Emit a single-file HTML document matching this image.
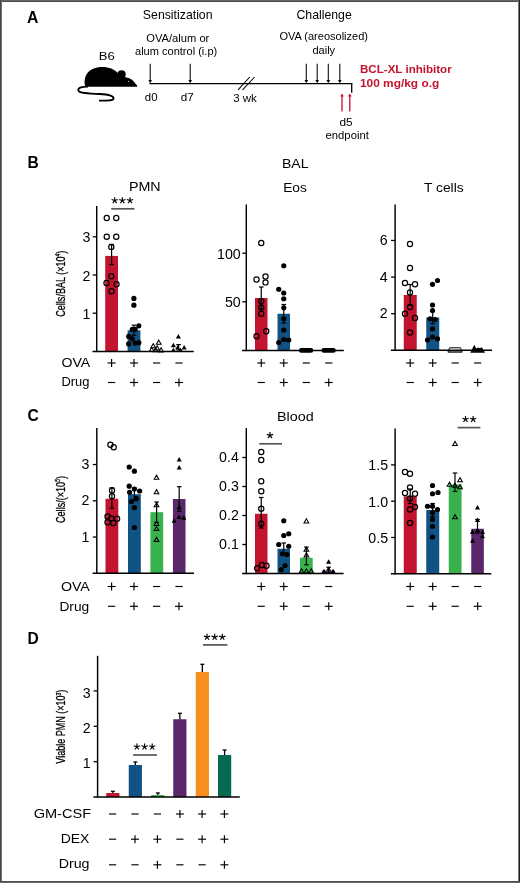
<!DOCTYPE html>
<html><head><meta charset="utf-8"><title>Figure</title>
<style>html,body{margin:0;padding:0;background:#fff;} svg{display:block;will-change:transform;} text{font-family:"Liberation Sans",sans-serif;}</style>
</head><body>
<svg width="520" height="883" viewBox="0 0 520 883">
<rect x="0" y="0" width="520" height="883" fill="#ffffff"/>
<rect x="0" y="0" width="520" height="1" fill="#666666"/>
<rect x="0" y="1" width="520" height="1" fill="#4b4949"/>
<rect x="0" y="0" width="1" height="883" fill="#464646"/>
<rect x="1" y="1" width="1" height="881" fill="#747474"/>
<rect x="519" y="0" width="1" height="883" fill="#231f20"/>
<rect x="518" y="1" width="1" height="881" fill="#777777"/>
<rect x="0" y="881" width="520" height="1" fill="#4d4a4a"/>
<rect x="0" y="882" width="520" height="1" fill="#6a6868"/>
<text x="27.0" y="23" font-size="15.8" text-anchor="start" font-weight="bold" fill="#000000" >A</text>
<text x="177.7" y="19.2" font-size="13.2" text-anchor="middle" font-weight="normal" fill="#000000" textLength="69.70" lengthAdjust="spacingAndGlyphs" >Sensitization</text>
<text x="324.1" y="19.1" font-size="13.1" text-anchor="middle" font-weight="normal" fill="#000000" textLength="55.20" lengthAdjust="spacingAndGlyphs" >Challenge</text>
<text x="177.8" y="41.5" font-size="11" text-anchor="middle" font-weight="normal" fill="#000000" textLength="63.00" lengthAdjust="spacingAndGlyphs" >OVA/alum or</text>
<text x="176.1" y="55.3" font-size="11" text-anchor="middle" font-weight="normal" fill="#000000" textLength="82.20" lengthAdjust="spacingAndGlyphs" >alum control (i.p)</text>
<text x="323.7" y="40.3" font-size="11" text-anchor="middle" font-weight="normal" fill="#000000" textLength="88.50" lengthAdjust="spacingAndGlyphs" >OVA (areosolized)</text>
<text x="323.8" y="53.8" font-size="11" text-anchor="middle" font-weight="normal" fill="#000000" textLength="22.70" lengthAdjust="spacingAndGlyphs" >daily</text>
<text x="106.8" y="59.8" font-size="11" text-anchor="middle" font-weight="normal" fill="#000000" textLength="16.00" lengthAdjust="spacingAndGlyphs" >B6</text>
<text x="151.2" y="100.8" font-size="10.8" text-anchor="middle" font-weight="normal" fill="#000000" textLength="12.70" lengthAdjust="spacingAndGlyphs" >d0</text>
<text x="187.2" y="100.8" font-size="10.8" text-anchor="middle" font-weight="normal" fill="#000000" textLength="13.00" lengthAdjust="spacingAndGlyphs" >d7</text>
<text x="245" y="102" font-size="10.8" text-anchor="middle" font-weight="normal" fill="#000000" textLength="23.70" lengthAdjust="spacingAndGlyphs" >3 wk</text>
<text x="346" y="125.6" font-size="10.8" text-anchor="middle" font-weight="normal" fill="#000000" textLength="13.20" lengthAdjust="spacingAndGlyphs" >d5</text>
<text x="347.2" y="138.9" font-size="10.8" text-anchor="middle" font-weight="normal" fill="#000000" textLength="43.20" lengthAdjust="spacingAndGlyphs" >endpoint</text>
<text x="360" y="73.3" font-size="11.2" text-anchor="start" font-weight="bold" fill="#c3142f" textLength="91.70" lengthAdjust="spacingAndGlyphs" >BCL-XL inhibitor</text>
<text x="360" y="87.1" font-size="11.2" text-anchor="start" font-weight="bold" fill="#c3142f" textLength="79.20" lengthAdjust="spacingAndGlyphs" >100 mg/kg o.g</text>
<line x1="149.5" y1="83.6" x2="352.3" y2="83.6" stroke="#000000" stroke-width="1.3" stroke-linecap="butt"/>
<line x1="351.7" y1="83.6" x2="351.7" y2="92.7" stroke="#000000" stroke-width="1.3" stroke-linecap="butt"/>
<line x1="238" y1="89.8" x2="249.8" y2="77" stroke="#000000" stroke-width="1.05" stroke-linecap="butt"/>
<line x1="242.6" y1="89.8" x2="254.6" y2="77" stroke="#000000" stroke-width="1.05" stroke-linecap="butt"/>
<line x1="150.2" y1="63.8" x2="150.2" y2="80.5" stroke="#000000" stroke-width="1.05" stroke-linecap="butt"/>
<polygon points="148.39999999999998,80 152.0,80 150.2,83.3" fill="#000000"/>
<line x1="190.2" y1="63.8" x2="190.2" y2="80.5" stroke="#000000" stroke-width="1.05" stroke-linecap="butt"/>
<polygon points="188.39999999999998,80 192.0,80 190.2,83.3" fill="#000000"/>
<line x1="306.3" y1="63.8" x2="306.3" y2="80.5" stroke="#000000" stroke-width="1.05" stroke-linecap="butt"/>
<polygon points="304.5,80 308.1,80 306.3,83.3" fill="#000000"/>
<line x1="317.2" y1="63.8" x2="317.2" y2="80.5" stroke="#000000" stroke-width="1.05" stroke-linecap="butt"/>
<polygon points="315.4,80 319.0,80 317.2,83.3" fill="#000000"/>
<line x1="328.3" y1="63.8" x2="328.3" y2="80.5" stroke="#000000" stroke-width="1.05" stroke-linecap="butt"/>
<polygon points="326.5,80 330.1,80 328.3,83.3" fill="#000000"/>
<line x1="339.8" y1="63.8" x2="339.8" y2="80.5" stroke="#000000" stroke-width="1.05" stroke-linecap="butt"/>
<polygon points="338.0,80 341.6,80 339.8,83.3" fill="#000000"/>
<line x1="342.0" y1="96" x2="342.0" y2="111.5" stroke="#c3142f" stroke-width="1.3" stroke-linecap="butt"/>
<polygon points="340.1,96.6 343.9,96.6 342.0,93.6" fill="#c3142f"/>
<line x1="349.8" y1="96" x2="349.8" y2="111.5" stroke="#c3142f" stroke-width="1.3" stroke-linecap="butt"/>
<polygon points="347.90000000000003,96.6 351.7,96.6 349.8,93.6" fill="#c3142f"/>
<path d="M86,86.7 C84.3,85.5 84.3,81.5 85,78.5 C86.5,72 92,67.8 100,67.1 C108,66.5 114,69 117.6,72.8 L120,76 C123,77 126,77.2 128.6,78.1 C131.6,79.1 134,81.5 135.5,83.8 L137.2,85.5 L137,86.8 Z" fill="#000000"/>
<circle cx="121.6" cy="74.4" r="4.1" fill="#000000"/>
<circle cx="128.6" cy="81.3" r="0.55" fill="#fff"/>
<path d="M88,86.6 C81,86.6 77.6,88 78.4,90.6 C79.4,93.2 88,93.6 100,94 C108,94.4 113.6,95.8 113.6,98.4 C113.6,100.6 108.5,100.6 99,100.6" fill="none" stroke="#000000" stroke-width="1.8"/>
<text x="27.6" y="167.9" font-size="15.6" text-anchor="start" font-weight="bold" fill="#000000" >B</text>
<text x="295.3" y="168" font-size="13.4" text-anchor="middle" font-weight="normal" fill="#000000" textLength="26.70" lengthAdjust="spacingAndGlyphs" >BAL</text>
<text x="144.8" y="191.3" font-size="13.4" text-anchor="middle" font-weight="normal" fill="#000000" textLength="31.70" lengthAdjust="spacingAndGlyphs" >PMN</text>
<rect x="105.19999999999999" y="255.89999999999998" width="12.8" height="95.5" fill="#c3142f"/>
<rect x="127.6" y="330.3" width="12.8" height="21.099999999999966" fill="#115284"/>
<line x1="111.6" y1="244.5" x2="111.6" y2="264.6" stroke="#000000" stroke-width="1.2" stroke-linecap="butt"/>
<line x1="109.3" y1="244.5" x2="113.89999999999999" y2="244.5" stroke="#000000" stroke-width="1.2" stroke-linecap="butt"/>
<line x1="109.3" y1="264.6" x2="113.89999999999999" y2="264.6" stroke="#000000" stroke-width="1.2" stroke-linecap="butt"/>
<line x1="134.0" y1="325.2" x2="134.0" y2="335.3" stroke="#000000" stroke-width="1.2" stroke-linecap="butt"/>
<line x1="131.7" y1="325.2" x2="136.3" y2="325.2" stroke="#000000" stroke-width="1.2" stroke-linecap="butt"/>
<line x1="131.7" y1="335.3" x2="136.3" y2="335.3" stroke="#000000" stroke-width="1.2" stroke-linecap="butt"/>
<circle cx="106.75" cy="218" r="2.6" fill="none" stroke="#000000" stroke-width="1.2"/>
<circle cx="116.25" cy="218" r="2.6" fill="none" stroke="#000000" stroke-width="1.2"/>
<circle cx="106.75" cy="236.75" r="2.6" fill="none" stroke="#000000" stroke-width="1.2"/>
<circle cx="116.25" cy="236.75" r="2.6" fill="none" stroke="#000000" stroke-width="1.2"/>
<circle cx="111.3" cy="246.9" r="2.6" fill="none" stroke="#000000" stroke-width="1.2"/>
<circle cx="111.3" cy="276.3" r="2.6" fill="none" stroke="#000000" stroke-width="1.2"/>
<circle cx="106.5" cy="283" r="2.6" fill="none" stroke="#000000" stroke-width="1.2"/>
<circle cx="116.5" cy="284.3" r="2.6" fill="none" stroke="#000000" stroke-width="1.2"/>
<circle cx="111.5" cy="291.3" r="2.6" fill="none" stroke="#000000" stroke-width="1.2"/>
<circle cx="133.9" cy="298.4" r="2.6" fill="#000000"/>
<circle cx="133.9" cy="305.2" r="2.6" fill="#000000"/>
<circle cx="138.8" cy="325.8" r="2.6" fill="#000000"/>
<circle cx="132.3" cy="329.4" r="2.6" fill="#000000"/>
<circle cx="135.2" cy="329.4" r="2.6" fill="#000000"/>
<circle cx="128.7" cy="336.4" r="2.6" fill="#000000"/>
<circle cx="132.3" cy="338.8" r="2.6" fill="#000000"/>
<circle cx="128.7" cy="343.9" r="2.6" fill="#000000"/>
<circle cx="135.2" cy="343.1" r="2.6" fill="#000000"/>
<circle cx="138.8" cy="342.7" r="2.6" fill="#000000"/>
<polygon points="153.2,343.65 150.85,347.7625 155.54999999999998,347.7625" fill="none" stroke="#000000" stroke-width="1.05" stroke-linejoin="miter"/>
<polygon points="158.7,340.04999999999995 156.35,344.16249999999997 161.04999999999998,344.16249999999997" fill="none" stroke="#000000" stroke-width="1.05" stroke-linejoin="miter"/>
<polygon points="151.7,347.25 149.35,351.3625 154.04999999999998,351.3625" fill="none" stroke="#000000" stroke-width="1.05" stroke-linejoin="miter"/>
<polygon points="157.2,345.84999999999997 154.85,349.9625 159.54999999999998,349.9625" fill="none" stroke="#000000" stroke-width="1.05" stroke-linejoin="miter"/>
<polygon points="161.1,347.84999999999997 158.75,351.9625 163.45,351.9625" fill="none" stroke="#000000" stroke-width="1.05" stroke-linejoin="miter"/>
<polygon points="155.5,347.65 153.15,351.7625 157.85,351.7625" fill="none" stroke="#000000" stroke-width="1.05" stroke-linejoin="miter"/>
<line x1="178.6" y1="344.6" x2="178.6" y2="350" stroke="#000000" stroke-width="1.2" stroke-linecap="butt"/>
<line x1="176.29999999999998" y1="344.6" x2="180.9" y2="344.6" stroke="#000000" stroke-width="1.2" stroke-linecap="butt"/>
<line x1="176.29999999999998" y1="350" x2="180.9" y2="350" stroke="#000000" stroke-width="1.2" stroke-linecap="butt"/>
<polygon points="178.4,334.05 175.85,338.51250000000005 180.95000000000002,338.51250000000005" fill="#000000"/>
<polygon points="173.4,342.75 170.85,347.21250000000003 175.95000000000002,347.21250000000003" fill="#000000"/>
<polygon points="184.2,344.95 181.64999999999998,349.4125 186.75,349.4125" fill="#000000"/>
<polygon points="177.7,344.95 175.14999999999998,349.4125 180.25,349.4125" fill="#000000"/>
<polygon points="173.4,347.65 170.85,352.1125 175.95000000000002,352.1125" fill="#000000"/>
<polygon points="180.6,347.65 178.04999999999998,352.1125 183.15,352.1125" fill="#000000"/>
<line x1="96.7" y1="206" x2="96.7" y2="352.09999999999997" stroke="#000000" stroke-width="1.45" stroke-linecap="butt"/>
<line x1="92.5" y1="351.4" x2="193.8" y2="351.4" stroke="#000000" stroke-width="1.5" stroke-linecap="butt"/>
<line x1="92.7" y1="313.2" x2="96.7" y2="313.2" stroke="#000000" stroke-width="1.3" stroke-linecap="butt"/>
<text x="90.3" y="318.83" font-size="14.2" text-anchor="end" font-weight="normal" fill="#000000" >1</text>
<line x1="92.7" y1="275.0" x2="96.7" y2="275.0" stroke="#000000" stroke-width="1.3" stroke-linecap="butt"/>
<text x="90.3" y="280.63" font-size="14.2" text-anchor="end" font-weight="normal" fill="#000000" >2</text>
<line x1="92.7" y1="236.79999999999995" x2="96.7" y2="236.79999999999995" stroke="#000000" stroke-width="1.3" stroke-linecap="butt"/>
<text x="90.3" y="242.43" font-size="14.2" text-anchor="end" font-weight="normal" fill="#000000" >3</text>
<line x1="111.2" y1="208.8" x2="134.5" y2="208.8" stroke="#555555" stroke-width="1.7" stroke-linecap="butt"/>
<line x1="114.7" y1="200.5" x2="114.70" y2="197.20" stroke="#000000" stroke-width="1.15" stroke-linecap="butt"/>
<line x1="114.7" y1="200.5" x2="117.84" y2="199.48" stroke="#000000" stroke-width="1.15" stroke-linecap="butt"/>
<line x1="114.7" y1="200.5" x2="116.64" y2="203.17" stroke="#000000" stroke-width="1.15" stroke-linecap="butt"/>
<line x1="114.7" y1="200.5" x2="112.76" y2="203.17" stroke="#000000" stroke-width="1.15" stroke-linecap="butt"/>
<line x1="114.7" y1="200.5" x2="111.56" y2="199.48" stroke="#000000" stroke-width="1.15" stroke-linecap="butt"/>
<circle cx="114.7" cy="200.5" r="0.9" fill="#000000"/>
<line x1="122.35000000000001" y1="200.5" x2="122.35" y2="197.20" stroke="#000000" stroke-width="1.15" stroke-linecap="butt"/>
<line x1="122.35000000000001" y1="200.5" x2="125.49" y2="199.48" stroke="#000000" stroke-width="1.15" stroke-linecap="butt"/>
<line x1="122.35000000000001" y1="200.5" x2="124.29" y2="203.17" stroke="#000000" stroke-width="1.15" stroke-linecap="butt"/>
<line x1="122.35000000000001" y1="200.5" x2="120.41" y2="203.17" stroke="#000000" stroke-width="1.15" stroke-linecap="butt"/>
<line x1="122.35000000000001" y1="200.5" x2="119.21" y2="199.48" stroke="#000000" stroke-width="1.15" stroke-linecap="butt"/>
<circle cx="122.35000000000001" cy="200.5" r="0.9" fill="#000000"/>
<line x1="130.0" y1="200.5" x2="130.00" y2="197.20" stroke="#000000" stroke-width="1.15" stroke-linecap="butt"/>
<line x1="130.0" y1="200.5" x2="133.14" y2="199.48" stroke="#000000" stroke-width="1.15" stroke-linecap="butt"/>
<line x1="130.0" y1="200.5" x2="131.94" y2="203.17" stroke="#000000" stroke-width="1.15" stroke-linecap="butt"/>
<line x1="130.0" y1="200.5" x2="128.06" y2="203.17" stroke="#000000" stroke-width="1.15" stroke-linecap="butt"/>
<line x1="130.0" y1="200.5" x2="126.86" y2="199.48" stroke="#000000" stroke-width="1.15" stroke-linecap="butt"/>
<circle cx="130.0" cy="200.5" r="0.9" fill="#000000"/>
<text x="0" y="0" font-size="12.6" text-anchor="middle" fill="#000000" textLength="66" lengthAdjust="spacingAndGlyphs" stroke="#000000" stroke-width="0.3" transform="translate(64.8,283.7) rotate(-90)">Cells/BAL (×10<tspan font-size="7" dy="-4.5">4</tspan><tspan dy="4.5">)</tspan></text>
<text x="295" y="191.8" font-size="13.4" text-anchor="middle" font-weight="normal" fill="#000000" textLength="23.70" lengthAdjust="spacingAndGlyphs" >Eos</text>
<rect x="255" y="298" width="12.5" height="52.39999999999998" fill="#c3142f"/>
<rect x="277.5" y="313.75" width="12.5" height="36.64999999999998" fill="#115284"/>
<line x1="261.25" y1="287" x2="261.25" y2="309" stroke="#000000" stroke-width="1.2" stroke-linecap="butt"/>
<line x1="258.95" y1="287" x2="263.55" y2="287" stroke="#000000" stroke-width="1.2" stroke-linecap="butt"/>
<line x1="258.95" y1="309" x2="263.55" y2="309" stroke="#000000" stroke-width="1.2" stroke-linecap="butt"/>
<line x1="283.75" y1="304.5" x2="283.75" y2="323" stroke="#000000" stroke-width="1.2" stroke-linecap="butt"/>
<line x1="281.45" y1="304.5" x2="286.05" y2="304.5" stroke="#000000" stroke-width="1.2" stroke-linecap="butt"/>
<line x1="281.45" y1="323" x2="286.05" y2="323" stroke="#000000" stroke-width="1.2" stroke-linecap="butt"/>
<circle cx="261.25" cy="243" r="2.6" fill="none" stroke="#000000" stroke-width="1.2"/>
<circle cx="256.5" cy="279.5" r="2.6" fill="none" stroke="#000000" stroke-width="1.2"/>
<circle cx="265.5" cy="276.4" r="2.6" fill="none" stroke="#000000" stroke-width="1.2"/>
<circle cx="265.5" cy="282.4" r="2.6" fill="none" stroke="#000000" stroke-width="1.2"/>
<circle cx="261.25" cy="301.25" r="2.6" fill="none" stroke="#000000" stroke-width="1.2"/>
<circle cx="261.25" cy="307.5" r="2.6" fill="none" stroke="#000000" stroke-width="1.2"/>
<circle cx="261.25" cy="313.75" r="2.6" fill="none" stroke="#000000" stroke-width="1.2"/>
<circle cx="266.25" cy="331.25" r="2.6" fill="none" stroke="#000000" stroke-width="1.2"/>
<circle cx="256.5" cy="336.25" r="2.6" fill="none" stroke="#000000" stroke-width="1.2"/>
<circle cx="283.75" cy="265.75" r="2.6" fill="#000000"/>
<circle cx="278.75" cy="289.25" r="2.6" fill="#000000"/>
<circle cx="283.75" cy="293" r="2.6" fill="#000000"/>
<circle cx="283.75" cy="298.75" r="2.6" fill="#000000"/>
<circle cx="283.75" cy="307.8" r="2.6" fill="#000000"/>
<circle cx="283.75" cy="318.75" r="2.6" fill="#000000"/>
<circle cx="283.75" cy="330" r="2.6" fill="#000000"/>
<circle cx="278.75" cy="342.5" r="2.6" fill="#000000"/>
<circle cx="283.75" cy="339.5" r="2.6" fill="#000000"/>
<circle cx="288.75" cy="340" r="2.6" fill="#000000"/>
<rect x="298.9" y="348" width="14.4" height="4.8" rx="2.4" fill="#000000"/>
<rect x="321.4" y="348" width="14.4" height="4.8" rx="2.4" fill="#000000"/>
<line x1="246.3" y1="204.5" x2="246.3" y2="351.09999999999997" stroke="#000000" stroke-width="1.45" stroke-linecap="butt"/>
<line x1="242.10000000000002" y1="350.4" x2="343.8" y2="350.4" stroke="#000000" stroke-width="1.5" stroke-linecap="butt"/>
<line x1="242.3" y1="301.79999999999995" x2="246.3" y2="301.79999999999995" stroke="#000000" stroke-width="1.3" stroke-linecap="butt"/>
<text x="240.7" y="307.13" font-size="14.2" text-anchor="end" font-weight="normal" fill="#000000" >50</text>
<line x1="242.3" y1="253.2" x2="246.3" y2="253.2" stroke="#000000" stroke-width="1.3" stroke-linecap="butt"/>
<text x="240.7" y="258.53" font-size="14.2" text-anchor="end" font-weight="normal" fill="#000000" >100</text>
<text x="443.8" y="192" font-size="13.4" text-anchor="middle" font-weight="normal" fill="#000000" textLength="39.70" lengthAdjust="spacingAndGlyphs" >T cells</text>
<rect x="403.75" y="295" width="13" height="55.30000000000001" fill="#c3142f"/>
<rect x="426.25" y="317.5" width="13" height="32.80000000000001" fill="#115284"/>
<line x1="410.2" y1="284.5" x2="410.2" y2="305.5" stroke="#000000" stroke-width="1.2" stroke-linecap="butt"/>
<line x1="407.9" y1="284.5" x2="412.5" y2="284.5" stroke="#000000" stroke-width="1.2" stroke-linecap="butt"/>
<line x1="407.9" y1="305.5" x2="412.5" y2="305.5" stroke="#000000" stroke-width="1.2" stroke-linecap="butt"/>
<line x1="432.7" y1="311.3" x2="432.7" y2="323.7" stroke="#000000" stroke-width="1.2" stroke-linecap="butt"/>
<line x1="430.4" y1="311.3" x2="435.0" y2="311.3" stroke="#000000" stroke-width="1.2" stroke-linecap="butt"/>
<line x1="430.4" y1="323.7" x2="435.0" y2="323.7" stroke="#000000" stroke-width="1.2" stroke-linecap="butt"/>
<circle cx="410" cy="244" r="2.6" fill="none" stroke="#000000" stroke-width="1.2"/>
<circle cx="410" cy="268" r="2.6" fill="none" stroke="#000000" stroke-width="1.2"/>
<circle cx="405" cy="283" r="2.6" fill="none" stroke="#000000" stroke-width="1.2"/>
<circle cx="415" cy="284.3" r="2.6" fill="none" stroke="#000000" stroke-width="1.2"/>
<circle cx="410" cy="292.5" r="2.6" fill="none" stroke="#000000" stroke-width="1.2"/>
<circle cx="410" cy="307" r="2.6" fill="none" stroke="#000000" stroke-width="1.2"/>
<circle cx="405" cy="313.8" r="2.6" fill="none" stroke="#000000" stroke-width="1.2"/>
<circle cx="415" cy="318" r="2.6" fill="none" stroke="#000000" stroke-width="1.2"/>
<circle cx="410" cy="332.5" r="2.6" fill="none" stroke="#000000" stroke-width="1.2"/>
<circle cx="432.5" cy="284.3" r="2.6" fill="#000000"/>
<circle cx="437.5" cy="280.5" r="2.6" fill="#000000"/>
<circle cx="432.5" cy="305" r="2.6" fill="#000000"/>
<circle cx="432.5" cy="310.5" r="2.6" fill="#000000"/>
<circle cx="430" cy="318.8" r="2.6" fill="#000000"/>
<circle cx="435" cy="319.5" r="2.6" fill="#000000"/>
<circle cx="432.5" cy="328.8" r="2.6" fill="#000000"/>
<circle cx="427.5" cy="340" r="2.6" fill="#000000"/>
<circle cx="432.5" cy="337" r="2.6" fill="#000000"/>
<circle cx="437.5" cy="338.8" r="2.6" fill="#000000"/>
<line x1="449.5" y1="347.8" x2="460.6" y2="347.8" stroke="#000000" stroke-width="1.0" stroke-linecap="butt"/>
<line x1="447.8" y1="352.0" x2="462.3" y2="352.0" stroke="#000000" stroke-width="1.3" stroke-linecap="butt"/>
<line x1="449.5" y1="347.8" x2="448.0" y2="352.0" stroke="#000000" stroke-width="0.9" stroke-linecap="butt"/>
<line x1="460.6" y1="347.8" x2="462.1" y2="352.0" stroke="#000000" stroke-width="0.9" stroke-linecap="butt"/>
<polygon points="470.2,352.8 472.2,349 474.2,344.8 476.2,348.4 478.2,347.4 480,348.3 481.7,347.2 483,349 485,352.8" fill="#000000"/>
<line x1="395.1" y1="204.5" x2="395.1" y2="351.0" stroke="#000000" stroke-width="1.45" stroke-linecap="butt"/>
<line x1="390.90000000000003" y1="350.3" x2="492" y2="350.3" stroke="#000000" stroke-width="1.5" stroke-linecap="butt"/>
<line x1="391.1" y1="313.7" x2="395.1" y2="313.7" stroke="#000000" stroke-width="1.3" stroke-linecap="butt"/>
<text x="387.6" y="318.43" font-size="14.2" text-anchor="end" font-weight="normal" fill="#000000" >2</text>
<line x1="391.1" y1="277.1" x2="395.1" y2="277.1" stroke="#000000" stroke-width="1.3" stroke-linecap="butt"/>
<text x="387.6" y="281.83" font-size="14.2" text-anchor="end" font-weight="normal" fill="#000000" >4</text>
<line x1="391.1" y1="240.5" x2="395.1" y2="240.5" stroke="#000000" stroke-width="1.3" stroke-linecap="butt"/>
<text x="387.6" y="245.23" font-size="14.2" text-anchor="end" font-weight="normal" fill="#000000" >6</text>
<text x="75.8" y="367.1" font-size="13.4" text-anchor="middle" font-weight="normal" fill="#000000" textLength="28.70" lengthAdjust="spacingAndGlyphs" >OVA</text>
<text x="75.4" y="386.3" font-size="13.4" text-anchor="middle" font-weight="normal" fill="#000000" textLength="28.00" lengthAdjust="spacingAndGlyphs" >Drug</text>
<line x1="107.6" y1="363" x2="115.6" y2="363" stroke="#000000" stroke-width="1.15" stroke-linecap="butt"/>
<line x1="111.6" y1="359.0" x2="111.6" y2="367.0" stroke="#000000" stroke-width="1.15" stroke-linecap="butt"/>
<line x1="130.0" y1="363" x2="138.0" y2="363" stroke="#000000" stroke-width="1.15" stroke-linecap="butt"/>
<line x1="134.0" y1="359.0" x2="134.0" y2="367.0" stroke="#000000" stroke-width="1.15" stroke-linecap="butt"/>
<line x1="153.0" y1="363" x2="160.2" y2="363" stroke="#000000" stroke-width="1.15" stroke-linecap="butt"/>
<line x1="175.4" y1="363" x2="182.6" y2="363" stroke="#000000" stroke-width="1.15" stroke-linecap="butt"/>
<line x1="108.0" y1="382.5" x2="115.19999999999999" y2="382.5" stroke="#000000" stroke-width="1.15" stroke-linecap="butt"/>
<line x1="130.0" y1="382.5" x2="138.0" y2="382.5" stroke="#000000" stroke-width="1.15" stroke-linecap="butt"/>
<line x1="134.0" y1="378.5" x2="134.0" y2="386.5" stroke="#000000" stroke-width="1.15" stroke-linecap="butt"/>
<line x1="153.0" y1="382.5" x2="160.2" y2="382.5" stroke="#000000" stroke-width="1.15" stroke-linecap="butt"/>
<line x1="175.0" y1="382.5" x2="183.0" y2="382.5" stroke="#000000" stroke-width="1.15" stroke-linecap="butt"/>
<line x1="179.0" y1="378.5" x2="179.0" y2="386.5" stroke="#000000" stroke-width="1.15" stroke-linecap="butt"/>
<line x1="257.25" y1="363" x2="265.25" y2="363" stroke="#000000" stroke-width="1.15" stroke-linecap="butt"/>
<line x1="261.25" y1="359.0" x2="261.25" y2="367.0" stroke="#000000" stroke-width="1.15" stroke-linecap="butt"/>
<line x1="279.75" y1="363" x2="287.75" y2="363" stroke="#000000" stroke-width="1.15" stroke-linecap="butt"/>
<line x1="283.75" y1="359.0" x2="283.75" y2="367.0" stroke="#000000" stroke-width="1.15" stroke-linecap="butt"/>
<line x1="302.65" y1="363" x2="309.85" y2="363" stroke="#000000" stroke-width="1.15" stroke-linecap="butt"/>
<line x1="325.15" y1="363" x2="332.35" y2="363" stroke="#000000" stroke-width="1.15" stroke-linecap="butt"/>
<line x1="257.65" y1="382.5" x2="264.85" y2="382.5" stroke="#000000" stroke-width="1.15" stroke-linecap="butt"/>
<line x1="279.75" y1="382.5" x2="287.75" y2="382.5" stroke="#000000" stroke-width="1.15" stroke-linecap="butt"/>
<line x1="283.75" y1="378.5" x2="283.75" y2="386.5" stroke="#000000" stroke-width="1.15" stroke-linecap="butt"/>
<line x1="302.65" y1="382.5" x2="309.85" y2="382.5" stroke="#000000" stroke-width="1.15" stroke-linecap="butt"/>
<line x1="324.75" y1="382.5" x2="332.75" y2="382.5" stroke="#000000" stroke-width="1.15" stroke-linecap="butt"/>
<line x1="328.75" y1="378.5" x2="328.75" y2="386.5" stroke="#000000" stroke-width="1.15" stroke-linecap="butt"/>
<line x1="406.2" y1="363" x2="414.2" y2="363" stroke="#000000" stroke-width="1.15" stroke-linecap="butt"/>
<line x1="410.2" y1="359.0" x2="410.2" y2="367.0" stroke="#000000" stroke-width="1.15" stroke-linecap="butt"/>
<line x1="428.7" y1="363" x2="436.7" y2="363" stroke="#000000" stroke-width="1.15" stroke-linecap="butt"/>
<line x1="432.7" y1="359.0" x2="432.7" y2="367.0" stroke="#000000" stroke-width="1.15" stroke-linecap="butt"/>
<line x1="451.59999999999997" y1="363" x2="458.8" y2="363" stroke="#000000" stroke-width="1.15" stroke-linecap="butt"/>
<line x1="474.09999999999997" y1="363" x2="481.3" y2="363" stroke="#000000" stroke-width="1.15" stroke-linecap="butt"/>
<line x1="406.59999999999997" y1="382.5" x2="413.8" y2="382.5" stroke="#000000" stroke-width="1.15" stroke-linecap="butt"/>
<line x1="428.7" y1="382.5" x2="436.7" y2="382.5" stroke="#000000" stroke-width="1.15" stroke-linecap="butt"/>
<line x1="432.7" y1="378.5" x2="432.7" y2="386.5" stroke="#000000" stroke-width="1.15" stroke-linecap="butt"/>
<line x1="451.59999999999997" y1="382.5" x2="458.8" y2="382.5" stroke="#000000" stroke-width="1.15" stroke-linecap="butt"/>
<line x1="473.7" y1="382.5" x2="481.7" y2="382.5" stroke="#000000" stroke-width="1.15" stroke-linecap="butt"/>
<line x1="477.7" y1="378.5" x2="477.7" y2="386.5" stroke="#000000" stroke-width="1.15" stroke-linecap="butt"/>
<text x="27.4" y="420.5" font-size="15.6" text-anchor="start" font-weight="bold" fill="#000000" >C</text>
<rect x="105.5" y="498.75" width="12.8" height="74.54999999999995" fill="#c3142f"/>
<rect x="128" y="494.2" width="12.8" height="79.09999999999997" fill="#115284"/>
<rect x="150.4" y="512.2" width="12.8" height="61.09999999999991" fill="#38b24c"/>
<rect x="172.9" y="499" width="12.6" height="74.29999999999995" fill="#5b276b"/>
<line x1="111.9" y1="487.7" x2="111.9" y2="508.3" stroke="#000000" stroke-width="1.2" stroke-linecap="butt"/>
<line x1="109.60000000000001" y1="487.7" x2="114.2" y2="487.7" stroke="#000000" stroke-width="1.2" stroke-linecap="butt"/>
<line x1="109.60000000000001" y1="508.3" x2="114.2" y2="508.3" stroke="#000000" stroke-width="1.2" stroke-linecap="butt"/>
<line x1="134.4" y1="488" x2="134.4" y2="500.4" stroke="#000000" stroke-width="1.2" stroke-linecap="butt"/>
<line x1="132.1" y1="488" x2="136.70000000000002" y2="488" stroke="#000000" stroke-width="1.2" stroke-linecap="butt"/>
<line x1="132.1" y1="500.4" x2="136.70000000000002" y2="500.4" stroke="#000000" stroke-width="1.2" stroke-linecap="butt"/>
<line x1="156.6" y1="502" x2="156.6" y2="522.4" stroke="#000000" stroke-width="1.2" stroke-linecap="butt"/>
<line x1="154.29999999999998" y1="502" x2="158.9" y2="502" stroke="#000000" stroke-width="1.2" stroke-linecap="butt"/>
<line x1="154.29999999999998" y1="522.4" x2="158.9" y2="522.4" stroke="#000000" stroke-width="1.2" stroke-linecap="butt"/>
<line x1="179.2" y1="486.7" x2="179.2" y2="511.3" stroke="#000000" stroke-width="1.2" stroke-linecap="butt"/>
<line x1="176.89999999999998" y1="486.7" x2="181.5" y2="486.7" stroke="#000000" stroke-width="1.2" stroke-linecap="butt"/>
<line x1="176.89999999999998" y1="511.3" x2="181.5" y2="511.3" stroke="#000000" stroke-width="1.2" stroke-linecap="butt"/>
<circle cx="110.4" cy="444.8" r="2.6" fill="none" stroke="#000000" stroke-width="1.2"/>
<circle cx="113.7" cy="447.3" r="2.6" fill="none" stroke="#000000" stroke-width="1.2"/>
<circle cx="112" cy="490.4" r="2.6" fill="none" stroke="#000000" stroke-width="1.2"/>
<circle cx="112" cy="496.2" r="2.6" fill="none" stroke="#000000" stroke-width="1.2"/>
<circle cx="107.5" cy="516.5" r="2.6" fill="none" stroke="#000000" stroke-width="1.2"/>
<circle cx="111.3" cy="518.5" r="2.6" fill="none" stroke="#000000" stroke-width="1.2"/>
<circle cx="117.1" cy="518.8" r="2.6" fill="none" stroke="#000000" stroke-width="1.2"/>
<circle cx="107.5" cy="522.3" r="2.6" fill="none" stroke="#000000" stroke-width="1.2"/>
<circle cx="113.3" cy="523" r="2.6" fill="none" stroke="#000000" stroke-width="1.2"/>
<circle cx="129.2" cy="467" r="2.6" fill="#000000"/>
<circle cx="134.4" cy="471.2" r="2.6" fill="#000000"/>
<circle cx="129.2" cy="486.2" r="2.6" fill="#000000"/>
<circle cx="134.4" cy="489" r="2.6" fill="#000000"/>
<circle cx="139.6" cy="491" r="2.6" fill="#000000"/>
<circle cx="129.6" cy="492.3" r="2.6" fill="#000000"/>
<circle cx="131.5" cy="501.5" r="2.6" fill="#000000"/>
<circle cx="136.3" cy="498.7" r="2.6" fill="#000000"/>
<circle cx="134.4" cy="507.7" r="2.6" fill="#000000"/>
<circle cx="134.4" cy="527.5" r="2.6" fill="#000000"/>
<polygon points="156.5,475.15 154.15,479.2625 158.85,479.2625" fill="none" stroke="#000000" stroke-width="1.05" stroke-linejoin="miter"/>
<polygon points="156.5,489.65 154.15,493.7625 158.85,493.7625" fill="none" stroke="#000000" stroke-width="1.05" stroke-linejoin="miter"/>
<polygon points="156.5,502.65 154.15,506.7625 158.85,506.7625" fill="none" stroke="#000000" stroke-width="1.05" stroke-linejoin="miter"/>
<polygon points="156.5,521.35 154.15,525.4625000000001 158.85,525.4625000000001" fill="none" stroke="#000000" stroke-width="1.05" stroke-linejoin="miter"/>
<polygon points="156.5,526.4499999999999 154.15,530.5625 158.85,530.5625" fill="none" stroke="#000000" stroke-width="1.05" stroke-linejoin="miter"/>
<polygon points="156.5,537.25 154.15,541.3625000000001 158.85,541.3625000000001" fill="none" stroke="#000000" stroke-width="1.05" stroke-linejoin="miter"/>
<polygon points="179.2,457.05 176.64999999999998,461.51250000000005 181.75,461.51250000000005" fill="#000000"/>
<polygon points="179.2,464.95 176.64999999999998,469.4125 181.75,469.4125" fill="#000000"/>
<polygon points="179.2,504.75 176.64999999999998,509.21250000000003 181.75,509.21250000000003" fill="#000000"/>
<polygon points="174.2,518.25 171.64999999999998,522.7125 176.75,522.7125" fill="#000000"/>
<polygon points="179,514.45 176.45,518.9125 181.55,518.9125" fill="#000000"/>
<polygon points="183.8,515.35 181.25,519.8125 186.35000000000002,519.8125" fill="#000000"/>
<line x1="96.8" y1="428" x2="96.8" y2="574.0" stroke="#000000" stroke-width="1.45" stroke-linecap="butt"/>
<line x1="92.6" y1="573.3" x2="194" y2="573.3" stroke="#000000" stroke-width="1.5" stroke-linecap="butt"/>
<line x1="92.8" y1="537.05" x2="96.8" y2="537.05" stroke="#000000" stroke-width="1.3" stroke-linecap="butt"/>
<text x="89.4" y="541.68" font-size="14.2" text-anchor="end" font-weight="normal" fill="#000000" >1</text>
<line x1="92.8" y1="500.79999999999995" x2="96.8" y2="500.79999999999995" stroke="#000000" stroke-width="1.3" stroke-linecap="butt"/>
<text x="89.4" y="505.43" font-size="14.2" text-anchor="end" font-weight="normal" fill="#000000" >2</text>
<line x1="92.8" y1="464.54999999999995" x2="96.8" y2="464.54999999999995" stroke="#000000" stroke-width="1.3" stroke-linecap="butt"/>
<text x="89.4" y="469.18" font-size="14.2" text-anchor="end" font-weight="normal" fill="#000000" >3</text>
<text x="0" y="0" font-size="12.6" text-anchor="middle" fill="#000000" textLength="47" lengthAdjust="spacingAndGlyphs" stroke="#000000" stroke-width="0.3" transform="translate(64.8,499.5) rotate(-90)">Cells/(×10<tspan font-size="7" dy="-4.5">5</tspan><tspan dy="4.5">)</tspan></text>
<text x="295.3" y="420.5" font-size="13.4" text-anchor="middle" font-weight="normal" fill="#000000" textLength="36.70" lengthAdjust="spacingAndGlyphs" >Blood</text>
<rect x="255" y="513.75" width="12.5" height="59.75" fill="#c3142f"/>
<rect x="277.5" y="548.75" width="12.5" height="24.75" fill="#115284"/>
<rect x="300" y="557.8" width="12.7" height="15.700000000000045" fill="#38b24c"/>
<rect x="322.3" y="570.7" width="12.7" height="2.7999999999999545" fill="#5b276b"/>
<line x1="261.25" y1="497.5" x2="261.25" y2="528" stroke="#000000" stroke-width="1.2" stroke-linecap="butt"/>
<line x1="258.95" y1="497.5" x2="263.55" y2="497.5" stroke="#000000" stroke-width="1.2" stroke-linecap="butt"/>
<line x1="258.95" y1="528" x2="263.55" y2="528" stroke="#000000" stroke-width="1.2" stroke-linecap="butt"/>
<line x1="283.75" y1="543" x2="283.75" y2="554.5" stroke="#000000" stroke-width="1.2" stroke-linecap="butt"/>
<line x1="281.45" y1="543" x2="286.05" y2="543" stroke="#000000" stroke-width="1.2" stroke-linecap="butt"/>
<line x1="281.45" y1="554.5" x2="286.05" y2="554.5" stroke="#000000" stroke-width="1.2" stroke-linecap="butt"/>
<line x1="306.4" y1="547.1" x2="306.4" y2="564.8" stroke="#000000" stroke-width="1.2" stroke-linecap="butt"/>
<line x1="304.09999999999997" y1="547.1" x2="308.7" y2="547.1" stroke="#000000" stroke-width="1.2" stroke-linecap="butt"/>
<line x1="304.09999999999997" y1="564.8" x2="308.7" y2="564.8" stroke="#000000" stroke-width="1.2" stroke-linecap="butt"/>
<line x1="328.6" y1="567.3" x2="328.6" y2="573" stroke="#000000" stroke-width="1.2" stroke-linecap="butt"/>
<line x1="326.3" y1="567.3" x2="330.90000000000003" y2="567.3" stroke="#000000" stroke-width="1.2" stroke-linecap="butt"/>
<line x1="326.3" y1="573" x2="330.90000000000003" y2="573" stroke="#000000" stroke-width="1.2" stroke-linecap="butt"/>
<circle cx="261.25" cy="452" r="2.6" fill="none" stroke="#000000" stroke-width="1.2"/>
<circle cx="261.25" cy="460" r="2.6" fill="none" stroke="#000000" stroke-width="1.2"/>
<circle cx="261.25" cy="481.25" r="2.6" fill="none" stroke="#000000" stroke-width="1.2"/>
<circle cx="261.25" cy="491.25" r="2.6" fill="none" stroke="#000000" stroke-width="1.2"/>
<circle cx="261.25" cy="508.75" r="2.6" fill="none" stroke="#000000" stroke-width="1.2"/>
<circle cx="261.25" cy="523.75" r="2.6" fill="none" stroke="#000000" stroke-width="1.2"/>
<circle cx="257" cy="568.25" r="2.6" fill="none" stroke="#000000" stroke-width="1.2"/>
<circle cx="262" cy="565" r="2.6" fill="none" stroke="#000000" stroke-width="1.2"/>
<circle cx="266.5" cy="565.75" r="2.6" fill="none" stroke="#000000" stroke-width="1.2"/>
<circle cx="283.75" cy="520.75" r="2.6" fill="#000000"/>
<circle cx="283.75" cy="535.5" r="2.6" fill="#000000"/>
<circle cx="288.75" cy="533.75" r="2.6" fill="#000000"/>
<circle cx="278.75" cy="544.5" r="2.6" fill="#000000"/>
<circle cx="288.75" cy="546.25" r="2.6" fill="#000000"/>
<circle cx="282.5" cy="553.75" r="2.6" fill="#000000"/>
<circle cx="287" cy="554.5" r="2.6" fill="#000000"/>
<circle cx="285" cy="565.5" r="2.6" fill="#000000"/>
<circle cx="281.25" cy="569.5" r="2.6" fill="#000000"/>
<polygon points="306.4,518.85 304.04999999999995,522.9625000000001 308.75,522.9625000000001" fill="none" stroke="#000000" stroke-width="1.05" stroke-linejoin="miter"/>
<polygon points="306.4,547.05 304.04999999999995,551.1625 308.75,551.1625" fill="none" stroke="#000000" stroke-width="1.05" stroke-linejoin="miter"/>
<polygon points="306.4,552.85 304.04999999999995,556.9625000000001 308.75,556.9625000000001" fill="none" stroke="#000000" stroke-width="1.05" stroke-linejoin="miter"/>
<polygon points="301.5,568.85 299.15,572.9625000000001 303.85,572.9625000000001" fill="none" stroke="#000000" stroke-width="1.05" stroke-linejoin="miter"/>
<polygon points="306.4,568.85 304.04999999999995,572.9625000000001 308.75,572.9625000000001" fill="none" stroke="#000000" stroke-width="1.05" stroke-linejoin="miter"/>
<polygon points="311.3,568.85 308.95,572.9625000000001 313.65000000000003,572.9625000000001" fill="none" stroke="#000000" stroke-width="1.05" stroke-linejoin="miter"/>
<polygon points="328.6,559.25 326.05,563.7125 331.15000000000003,563.7125" fill="#000000"/>
<polygon points="324,568.6500000000001 321.45,573.1125000000001 326.55,573.1125000000001" fill="#000000"/>
<polygon points="328.6,566.25 326.05,570.7125 331.15000000000003,570.7125" fill="#000000"/>
<polygon points="333,568.6500000000001 330.45,573.1125000000001 335.55,573.1125000000001" fill="#000000"/>
<line x1="246.3" y1="428" x2="246.3" y2="574.2" stroke="#000000" stroke-width="1.45" stroke-linecap="butt"/>
<line x1="242.10000000000002" y1="573.5" x2="343.6" y2="573.5" stroke="#000000" stroke-width="1.5" stroke-linecap="butt"/>
<line x1="242.3" y1="544.5" x2="246.3" y2="544.5" stroke="#000000" stroke-width="1.3" stroke-linecap="butt"/>
<text x="238.8" y="548.93" font-size="14.2" text-anchor="end" font-weight="normal" fill="#000000" >0.1</text>
<line x1="242.3" y1="515.5" x2="246.3" y2="515.5" stroke="#000000" stroke-width="1.3" stroke-linecap="butt"/>
<text x="238.8" y="519.93" font-size="14.2" text-anchor="end" font-weight="normal" fill="#000000" >0.2</text>
<line x1="242.3" y1="486.5" x2="246.3" y2="486.5" stroke="#000000" stroke-width="1.3" stroke-linecap="butt"/>
<text x="238.8" y="490.93" font-size="14.2" text-anchor="end" font-weight="normal" fill="#000000" >0.3</text>
<line x1="242.3" y1="457.5" x2="246.3" y2="457.5" stroke="#000000" stroke-width="1.3" stroke-linecap="butt"/>
<text x="238.8" y="461.93" font-size="14.2" text-anchor="end" font-weight="normal" fill="#000000" >0.4</text>
<line x1="259.3" y1="443.8" x2="282" y2="443.8" stroke="#555555" stroke-width="1.7" stroke-linecap="butt"/>
<line x1="270.0" y1="435.4" x2="270.00" y2="432.10" stroke="#000000" stroke-width="1.15" stroke-linecap="butt"/>
<line x1="270.0" y1="435.4" x2="273.14" y2="434.38" stroke="#000000" stroke-width="1.15" stroke-linecap="butt"/>
<line x1="270.0" y1="435.4" x2="271.94" y2="438.07" stroke="#000000" stroke-width="1.15" stroke-linecap="butt"/>
<line x1="270.0" y1="435.4" x2="268.06" y2="438.07" stroke="#000000" stroke-width="1.15" stroke-linecap="butt"/>
<line x1="270.0" y1="435.4" x2="266.86" y2="434.38" stroke="#000000" stroke-width="1.15" stroke-linecap="butt"/>
<circle cx="270.0" cy="435.4" r="0.9" fill="#000000"/>
<rect x="403.75" y="496.25" width="13" height="77.54999999999995" fill="#c3142f"/>
<rect x="426.25" y="510" width="13" height="63.799999999999955" fill="#115284"/>
<rect x="448.75" y="484.5" width="12.8" height="89.29999999999995" fill="#38b24c"/>
<rect x="471.25" y="528.75" width="12.6" height="45.049999999999955" fill="#5b276b"/>
<line x1="410.2" y1="489" x2="410.2" y2="503.5" stroke="#000000" stroke-width="1.2" stroke-linecap="butt"/>
<line x1="407.9" y1="489" x2="412.5" y2="489" stroke="#000000" stroke-width="1.2" stroke-linecap="butt"/>
<line x1="407.9" y1="503.5" x2="412.5" y2="503.5" stroke="#000000" stroke-width="1.2" stroke-linecap="butt"/>
<line x1="432.6" y1="503.5" x2="432.6" y2="516.5" stroke="#000000" stroke-width="1.2" stroke-linecap="butt"/>
<line x1="430.3" y1="503.5" x2="434.90000000000003" y2="503.5" stroke="#000000" stroke-width="1.2" stroke-linecap="butt"/>
<line x1="430.3" y1="516.5" x2="434.90000000000003" y2="516.5" stroke="#000000" stroke-width="1.2" stroke-linecap="butt"/>
<line x1="455" y1="473" x2="455" y2="491.5" stroke="#000000" stroke-width="1.2" stroke-linecap="butt"/>
<line x1="452.7" y1="473" x2="457.3" y2="473" stroke="#000000" stroke-width="1.2" stroke-linecap="butt"/>
<line x1="452.7" y1="491.5" x2="457.3" y2="491.5" stroke="#000000" stroke-width="1.2" stroke-linecap="butt"/>
<line x1="477.5" y1="519.5" x2="477.5" y2="533" stroke="#000000" stroke-width="1.2" stroke-linecap="butt"/>
<line x1="475.2" y1="519.5" x2="479.8" y2="519.5" stroke="#000000" stroke-width="1.2" stroke-linecap="butt"/>
<line x1="475.2" y1="533" x2="479.8" y2="533" stroke="#000000" stroke-width="1.2" stroke-linecap="butt"/>
<circle cx="405" cy="472" r="2.6" fill="none" stroke="#000000" stroke-width="1.2"/>
<circle cx="410" cy="473.75" r="2.6" fill="none" stroke="#000000" stroke-width="1.2"/>
<circle cx="410" cy="487.5" r="2.6" fill="none" stroke="#000000" stroke-width="1.2"/>
<circle cx="405" cy="493" r="2.6" fill="none" stroke="#000000" stroke-width="1.2"/>
<circle cx="415" cy="493.75" r="2.6" fill="none" stroke="#000000" stroke-width="1.2"/>
<circle cx="415" cy="507" r="2.6" fill="none" stroke="#000000" stroke-width="1.2"/>
<circle cx="410" cy="509.5" r="2.6" fill="none" stroke="#000000" stroke-width="1.2"/>
<circle cx="410" cy="523" r="2.6" fill="none" stroke="#000000" stroke-width="1.2"/>
<circle cx="410" cy="498.5" r="2.6" fill="none" stroke="#000000" stroke-width="1.2"/>
<circle cx="432.5" cy="485.5" r="2.6" fill="#000000"/>
<circle cx="432.5" cy="493.75" r="2.6" fill="#000000"/>
<circle cx="438" cy="492.5" r="2.6" fill="#000000"/>
<circle cx="427.5" cy="506.25" r="2.6" fill="#000000"/>
<circle cx="432.5" cy="506.25" r="2.6" fill="#000000"/>
<circle cx="437.5" cy="509.5" r="2.6" fill="#000000"/>
<circle cx="432.5" cy="512.5" r="2.6" fill="#000000"/>
<circle cx="432.5" cy="519.5" r="2.6" fill="#000000"/>
<circle cx="432.5" cy="526.25" r="2.6" fill="#000000"/>
<circle cx="432.5" cy="537" r="2.6" fill="#000000"/>
<polygon points="455,441.4 452.65,445.5125 457.35,445.5125" fill="none" stroke="#000000" stroke-width="1.05" stroke-linejoin="miter"/>
<polygon points="460,477.65 457.65,481.7625 462.35,481.7625" fill="none" stroke="#000000" stroke-width="1.05" stroke-linejoin="miter"/>
<polygon points="449.5,482.15 447.15,486.2625 451.85,486.2625" fill="none" stroke="#000000" stroke-width="1.05" stroke-linejoin="miter"/>
<polygon points="455,483.15 452.65,487.2625 457.35,487.2625" fill="none" stroke="#000000" stroke-width="1.05" stroke-linejoin="miter"/>
<polygon points="460,484.65 457.65,488.7625 462.35,488.7625" fill="none" stroke="#000000" stroke-width="1.05" stroke-linejoin="miter"/>
<polygon points="455,514.65 452.65,518.7625 457.35,518.7625" fill="none" stroke="#000000" stroke-width="1.05" stroke-linejoin="miter"/>
<polygon points="477.5,504.95 474.95,509.4125 480.05,509.4125" fill="#000000"/>
<polygon points="477.5,517.45 474.95,521.9125 480.05,521.9125" fill="#000000"/>
<polygon points="472.5,529.45 469.95,533.9125 475.05,533.9125" fill="#000000"/>
<polygon points="477.5,527.45 474.95,531.9125 480.05,531.9125" fill="#000000"/>
<polygon points="482.5,529.45 479.95,533.9125 485.05,533.9125" fill="#000000"/>
<polygon points="472.5,538.2 469.95,542.6625 475.05,542.6625" fill="#000000"/>
<polygon points="482.5,533.7 479.95,538.1625 485.05,538.1625" fill="#000000"/>
<line x1="395.1" y1="428.5" x2="395.1" y2="574.5" stroke="#000000" stroke-width="1.45" stroke-linecap="butt"/>
<line x1="390.90000000000003" y1="573.8" x2="491.3" y2="573.8" stroke="#000000" stroke-width="1.5" stroke-linecap="butt"/>
<line x1="391.1" y1="537.5" x2="395.1" y2="537.5" stroke="#000000" stroke-width="1.3" stroke-linecap="butt"/>
<text x="388.1" y="542.93" font-size="14.2" text-anchor="end" font-weight="normal" fill="#000000" >0.5</text>
<line x1="391.1" y1="501.19999999999993" x2="395.1" y2="501.19999999999993" stroke="#000000" stroke-width="1.3" stroke-linecap="butt"/>
<text x="388.1" y="506.63" font-size="14.2" text-anchor="end" font-weight="normal" fill="#000000" >1.0</text>
<line x1="391.1" y1="464.9" x2="395.1" y2="464.9" stroke="#000000" stroke-width="1.3" stroke-linecap="butt"/>
<text x="388.1" y="470.33" font-size="14.2" text-anchor="end" font-weight="normal" fill="#000000" >1.5</text>
<line x1="457.6" y1="427.6" x2="480.4" y2="427.6" stroke="#555555" stroke-width="1.7" stroke-linecap="butt"/>
<line x1="465.5" y1="419.2" x2="465.50" y2="415.90" stroke="#000000" stroke-width="1.15" stroke-linecap="butt"/>
<line x1="465.5" y1="419.2" x2="468.64" y2="418.18" stroke="#000000" stroke-width="1.15" stroke-linecap="butt"/>
<line x1="465.5" y1="419.2" x2="467.44" y2="421.87" stroke="#000000" stroke-width="1.15" stroke-linecap="butt"/>
<line x1="465.5" y1="419.2" x2="463.56" y2="421.87" stroke="#000000" stroke-width="1.15" stroke-linecap="butt"/>
<line x1="465.5" y1="419.2" x2="462.36" y2="418.18" stroke="#000000" stroke-width="1.15" stroke-linecap="butt"/>
<circle cx="465.5" cy="419.2" r="0.9" fill="#000000"/>
<line x1="473.15" y1="419.2" x2="473.15" y2="415.90" stroke="#000000" stroke-width="1.15" stroke-linecap="butt"/>
<line x1="473.15" y1="419.2" x2="476.29" y2="418.18" stroke="#000000" stroke-width="1.15" stroke-linecap="butt"/>
<line x1="473.15" y1="419.2" x2="475.09" y2="421.87" stroke="#000000" stroke-width="1.15" stroke-linecap="butt"/>
<line x1="473.15" y1="419.2" x2="471.21" y2="421.87" stroke="#000000" stroke-width="1.15" stroke-linecap="butt"/>
<line x1="473.15" y1="419.2" x2="470.01" y2="418.18" stroke="#000000" stroke-width="1.15" stroke-linecap="butt"/>
<circle cx="473.15" cy="419.2" r="0.9" fill="#000000"/>
<text x="75.4" y="590.9" font-size="13.4" text-anchor="middle" font-weight="normal" fill="#000000" textLength="28.90" lengthAdjust="spacingAndGlyphs" >OVA</text>
<text x="74.3" y="610.6" font-size="13.4" text-anchor="middle" font-weight="normal" fill="#000000" textLength="29.80" lengthAdjust="spacingAndGlyphs" >Drug</text>
<line x1="107.6" y1="586.5" x2="115.6" y2="586.5" stroke="#000000" stroke-width="1.15" stroke-linecap="butt"/>
<line x1="111.6" y1="582.5" x2="111.6" y2="590.5" stroke="#000000" stroke-width="1.15" stroke-linecap="butt"/>
<line x1="130.0" y1="586.5" x2="138.0" y2="586.5" stroke="#000000" stroke-width="1.15" stroke-linecap="butt"/>
<line x1="134.0" y1="582.5" x2="134.0" y2="590.5" stroke="#000000" stroke-width="1.15" stroke-linecap="butt"/>
<line x1="153.0" y1="586.5" x2="160.2" y2="586.5" stroke="#000000" stroke-width="1.15" stroke-linecap="butt"/>
<line x1="175.4" y1="586.5" x2="182.6" y2="586.5" stroke="#000000" stroke-width="1.15" stroke-linecap="butt"/>
<line x1="108.0" y1="606.3" x2="115.19999999999999" y2="606.3" stroke="#000000" stroke-width="1.15" stroke-linecap="butt"/>
<line x1="130.0" y1="606.3" x2="138.0" y2="606.3" stroke="#000000" stroke-width="1.15" stroke-linecap="butt"/>
<line x1="134.0" y1="602.3" x2="134.0" y2="610.3" stroke="#000000" stroke-width="1.15" stroke-linecap="butt"/>
<line x1="153.0" y1="606.3" x2="160.2" y2="606.3" stroke="#000000" stroke-width="1.15" stroke-linecap="butt"/>
<line x1="175.0" y1="606.3" x2="183.0" y2="606.3" stroke="#000000" stroke-width="1.15" stroke-linecap="butt"/>
<line x1="179.0" y1="602.3" x2="179.0" y2="610.3" stroke="#000000" stroke-width="1.15" stroke-linecap="butt"/>
<line x1="257.25" y1="586.5" x2="265.25" y2="586.5" stroke="#000000" stroke-width="1.15" stroke-linecap="butt"/>
<line x1="261.25" y1="582.5" x2="261.25" y2="590.5" stroke="#000000" stroke-width="1.15" stroke-linecap="butt"/>
<line x1="279.75" y1="586.5" x2="287.75" y2="586.5" stroke="#000000" stroke-width="1.15" stroke-linecap="butt"/>
<line x1="283.75" y1="582.5" x2="283.75" y2="590.5" stroke="#000000" stroke-width="1.15" stroke-linecap="butt"/>
<line x1="302.65" y1="586.5" x2="309.85" y2="586.5" stroke="#000000" stroke-width="1.15" stroke-linecap="butt"/>
<line x1="325.15" y1="586.5" x2="332.35" y2="586.5" stroke="#000000" stroke-width="1.15" stroke-linecap="butt"/>
<line x1="257.65" y1="606.3" x2="264.85" y2="606.3" stroke="#000000" stroke-width="1.15" stroke-linecap="butt"/>
<line x1="279.75" y1="606.3" x2="287.75" y2="606.3" stroke="#000000" stroke-width="1.15" stroke-linecap="butt"/>
<line x1="283.75" y1="602.3" x2="283.75" y2="610.3" stroke="#000000" stroke-width="1.15" stroke-linecap="butt"/>
<line x1="302.65" y1="606.3" x2="309.85" y2="606.3" stroke="#000000" stroke-width="1.15" stroke-linecap="butt"/>
<line x1="324.75" y1="606.3" x2="332.75" y2="606.3" stroke="#000000" stroke-width="1.15" stroke-linecap="butt"/>
<line x1="328.75" y1="602.3" x2="328.75" y2="610.3" stroke="#000000" stroke-width="1.15" stroke-linecap="butt"/>
<line x1="406.2" y1="586.5" x2="414.2" y2="586.5" stroke="#000000" stroke-width="1.15" stroke-linecap="butt"/>
<line x1="410.2" y1="582.5" x2="410.2" y2="590.5" stroke="#000000" stroke-width="1.15" stroke-linecap="butt"/>
<line x1="428.7" y1="586.5" x2="436.7" y2="586.5" stroke="#000000" stroke-width="1.15" stroke-linecap="butt"/>
<line x1="432.7" y1="582.5" x2="432.7" y2="590.5" stroke="#000000" stroke-width="1.15" stroke-linecap="butt"/>
<line x1="451.59999999999997" y1="586.5" x2="458.8" y2="586.5" stroke="#000000" stroke-width="1.15" stroke-linecap="butt"/>
<line x1="474.09999999999997" y1="586.5" x2="481.3" y2="586.5" stroke="#000000" stroke-width="1.15" stroke-linecap="butt"/>
<line x1="406.59999999999997" y1="606.3" x2="413.8" y2="606.3" stroke="#000000" stroke-width="1.15" stroke-linecap="butt"/>
<line x1="428.7" y1="606.3" x2="436.7" y2="606.3" stroke="#000000" stroke-width="1.15" stroke-linecap="butt"/>
<line x1="432.7" y1="602.3" x2="432.7" y2="610.3" stroke="#000000" stroke-width="1.15" stroke-linecap="butt"/>
<line x1="451.59999999999997" y1="606.3" x2="458.8" y2="606.3" stroke="#000000" stroke-width="1.15" stroke-linecap="butt"/>
<line x1="473.7" y1="606.3" x2="481.7" y2="606.3" stroke="#000000" stroke-width="1.15" stroke-linecap="butt"/>
<line x1="477.7" y1="602.3" x2="477.7" y2="610.3" stroke="#000000" stroke-width="1.15" stroke-linecap="butt"/>
<text x="27.6" y="644.3" font-size="15.6" text-anchor="start" font-weight="bold" fill="#000000" >D</text>
<line x1="112.85" y1="791.3" x2="112.85" y2="793.5" stroke="#000000" stroke-width="1.3" stroke-linecap="butt"/>
<line x1="110.85" y1="791.3" x2="114.85" y2="791.3" stroke="#000000" stroke-width="1.3" stroke-linecap="butt"/>
<rect x="106.25" y="793" width="13.2" height="4.100000000000023" fill="#c3142f"/>
<line x1="135.35" y1="762" x2="135.35" y2="765.5" stroke="#000000" stroke-width="1.3" stroke-linecap="butt"/>
<line x1="133.35" y1="762" x2="137.35" y2="762" stroke="#000000" stroke-width="1.3" stroke-linecap="butt"/>
<rect x="128.75" y="765" width="13.2" height="32.10000000000002" fill="#115284"/>
<line x1="157.85" y1="793" x2="157.85" y2="795.5" stroke="#000000" stroke-width="1.3" stroke-linecap="butt"/>
<line x1="155.85" y1="793" x2="159.85" y2="793" stroke="#000000" stroke-width="1.3" stroke-linecap="butt"/>
<rect x="151.25" y="795" width="13.2" height="2.1000000000000227" fill="#38b24c"/>
<line x1="179.85" y1="713.3" x2="179.85" y2="719.75" stroke="#000000" stroke-width="1.3" stroke-linecap="butt"/>
<line x1="177.85" y1="713.3" x2="181.85" y2="713.3" stroke="#000000" stroke-width="1.3" stroke-linecap="butt"/>
<rect x="173.25" y="719.25" width="13.2" height="77.85000000000002" fill="#5b276b"/>
<line x1="202.35" y1="664.3" x2="202.35" y2="672.5" stroke="#000000" stroke-width="1.3" stroke-linecap="butt"/>
<line x1="200.35" y1="664.3" x2="204.35" y2="664.3" stroke="#000000" stroke-width="1.3" stroke-linecap="butt"/>
<rect x="195.75" y="672" width="13.2" height="125.10000000000002" fill="#f7901e"/>
<line x1="224.6" y1="750" x2="224.6" y2="755.5" stroke="#000000" stroke-width="1.3" stroke-linecap="butt"/>
<line x1="222.6" y1="750" x2="226.6" y2="750" stroke="#000000" stroke-width="1.3" stroke-linecap="butt"/>
<rect x="218" y="755" width="13.2" height="42.10000000000002" fill="#066a53"/>
<line x1="97.6" y1="655.8" x2="97.6" y2="797.8000000000001" stroke="#000000" stroke-width="1.45" stroke-linecap="butt"/>
<line x1="93.39999999999999" y1="797.1" x2="239.8" y2="797.1" stroke="#000000" stroke-width="1.5" stroke-linecap="butt"/>
<line x1="93.6" y1="761.7" x2="97.6" y2="761.7" stroke="#000000" stroke-width="1.3" stroke-linecap="butt"/>
<text x="90.6" y="768.43" font-size="14.2" text-anchor="end" font-weight="normal" fill="#000000" >1</text>
<line x1="93.6" y1="726.3000000000001" x2="97.6" y2="726.3000000000001" stroke="#000000" stroke-width="1.3" stroke-linecap="butt"/>
<text x="90.6" y="733.03" font-size="14.2" text-anchor="end" font-weight="normal" fill="#000000" >2</text>
<line x1="93.6" y1="690.9000000000001" x2="97.6" y2="690.9000000000001" stroke="#000000" stroke-width="1.3" stroke-linecap="butt"/>
<text x="90.6" y="697.63" font-size="14.2" text-anchor="end" font-weight="normal" fill="#000000" >3</text>
<text x="0" y="0" font-size="12.6" text-anchor="middle" fill="#000000" textLength="74" lengthAdjust="spacingAndGlyphs" stroke="#000000" stroke-width="0.3" transform="translate(65.3,726.7) rotate(-90)">Viable PMN (×10<tspan font-size="7" dy="-4.5">3</tspan><tspan dy="4.5">)</tspan></text>
<line x1="133.1" y1="755" x2="156.9" y2="755" stroke="#555555" stroke-width="1.7" stroke-linecap="butt"/>
<line x1="136.9" y1="746.8" x2="136.90" y2="743.50" stroke="#000000" stroke-width="1.15" stroke-linecap="butt"/>
<line x1="136.9" y1="746.8" x2="140.04" y2="745.78" stroke="#000000" stroke-width="1.15" stroke-linecap="butt"/>
<line x1="136.9" y1="746.8" x2="138.84" y2="749.47" stroke="#000000" stroke-width="1.15" stroke-linecap="butt"/>
<line x1="136.9" y1="746.8" x2="134.96" y2="749.47" stroke="#000000" stroke-width="1.15" stroke-linecap="butt"/>
<line x1="136.9" y1="746.8" x2="133.76" y2="745.78" stroke="#000000" stroke-width="1.15" stroke-linecap="butt"/>
<circle cx="136.9" cy="746.8" r="0.9" fill="#000000"/>
<line x1="144.55" y1="746.8" x2="144.55" y2="743.50" stroke="#000000" stroke-width="1.15" stroke-linecap="butt"/>
<line x1="144.55" y1="746.8" x2="147.69" y2="745.78" stroke="#000000" stroke-width="1.15" stroke-linecap="butt"/>
<line x1="144.55" y1="746.8" x2="146.49" y2="749.47" stroke="#000000" stroke-width="1.15" stroke-linecap="butt"/>
<line x1="144.55" y1="746.8" x2="142.61" y2="749.47" stroke="#000000" stroke-width="1.15" stroke-linecap="butt"/>
<line x1="144.55" y1="746.8" x2="141.41" y2="745.78" stroke="#000000" stroke-width="1.15" stroke-linecap="butt"/>
<circle cx="144.55" cy="746.8" r="0.9" fill="#000000"/>
<line x1="152.20000000000002" y1="746.8" x2="152.20" y2="743.50" stroke="#000000" stroke-width="1.15" stroke-linecap="butt"/>
<line x1="152.20000000000002" y1="746.8" x2="155.34" y2="745.78" stroke="#000000" stroke-width="1.15" stroke-linecap="butt"/>
<line x1="152.20000000000002" y1="746.8" x2="154.14" y2="749.47" stroke="#000000" stroke-width="1.15" stroke-linecap="butt"/>
<line x1="152.20000000000002" y1="746.8" x2="150.26" y2="749.47" stroke="#000000" stroke-width="1.15" stroke-linecap="butt"/>
<line x1="152.20000000000002" y1="746.8" x2="149.06" y2="745.78" stroke="#000000" stroke-width="1.15" stroke-linecap="butt"/>
<circle cx="152.20000000000002" cy="746.8" r="0.9" fill="#000000"/>
<line x1="203" y1="644.9" x2="227.4" y2="644.9" stroke="#555555" stroke-width="1.7" stroke-linecap="butt"/>
<line x1="207.0" y1="637.1" x2="207.00" y2="633.80" stroke="#000000" stroke-width="1.15" stroke-linecap="butt"/>
<line x1="207.0" y1="637.1" x2="210.14" y2="636.08" stroke="#000000" stroke-width="1.15" stroke-linecap="butt"/>
<line x1="207.0" y1="637.1" x2="208.94" y2="639.77" stroke="#000000" stroke-width="1.15" stroke-linecap="butt"/>
<line x1="207.0" y1="637.1" x2="205.06" y2="639.77" stroke="#000000" stroke-width="1.15" stroke-linecap="butt"/>
<line x1="207.0" y1="637.1" x2="203.86" y2="636.08" stroke="#000000" stroke-width="1.15" stroke-linecap="butt"/>
<circle cx="207.0" cy="637.1" r="0.9" fill="#000000"/>
<line x1="214.65" y1="637.1" x2="214.65" y2="633.80" stroke="#000000" stroke-width="1.15" stroke-linecap="butt"/>
<line x1="214.65" y1="637.1" x2="217.79" y2="636.08" stroke="#000000" stroke-width="1.15" stroke-linecap="butt"/>
<line x1="214.65" y1="637.1" x2="216.59" y2="639.77" stroke="#000000" stroke-width="1.15" stroke-linecap="butt"/>
<line x1="214.65" y1="637.1" x2="212.71" y2="639.77" stroke="#000000" stroke-width="1.15" stroke-linecap="butt"/>
<line x1="214.65" y1="637.1" x2="211.51" y2="636.08" stroke="#000000" stroke-width="1.15" stroke-linecap="butt"/>
<circle cx="214.65" cy="637.1" r="0.9" fill="#000000"/>
<line x1="222.3" y1="637.1" x2="222.30" y2="633.80" stroke="#000000" stroke-width="1.15" stroke-linecap="butt"/>
<line x1="222.3" y1="637.1" x2="225.44" y2="636.08" stroke="#000000" stroke-width="1.15" stroke-linecap="butt"/>
<line x1="222.3" y1="637.1" x2="224.24" y2="639.77" stroke="#000000" stroke-width="1.15" stroke-linecap="butt"/>
<line x1="222.3" y1="637.1" x2="220.36" y2="639.77" stroke="#000000" stroke-width="1.15" stroke-linecap="butt"/>
<line x1="222.3" y1="637.1" x2="219.16" y2="636.08" stroke="#000000" stroke-width="1.15" stroke-linecap="butt"/>
<circle cx="222.3" cy="637.1" r="0.9" fill="#000000"/>
<text x="62.4" y="817.5" font-size="13.4" text-anchor="middle" font-weight="normal" fill="#000000" textLength="57.50" lengthAdjust="spacingAndGlyphs" >GM-CSF</text>
<text x="75" y="843" font-size="13.4" text-anchor="middle" font-weight="normal" fill="#000000" textLength="28.70" lengthAdjust="spacingAndGlyphs" >DEX</text>
<text x="74.1" y="868" font-size="13.4" text-anchor="middle" font-weight="normal" fill="#000000" textLength="30.90" lengthAdjust="spacingAndGlyphs" >Drug</text>
<line x1="109.0" y1="814" x2="116.19999999999999" y2="814" stroke="#000000" stroke-width="1.15" stroke-linecap="butt"/>
<line x1="131.4" y1="814" x2="138.6" y2="814" stroke="#000000" stroke-width="1.15" stroke-linecap="butt"/>
<line x1="153.8" y1="814" x2="161.0" y2="814" stroke="#000000" stroke-width="1.15" stroke-linecap="butt"/>
<line x1="175.9" y1="814" x2="183.9" y2="814" stroke="#000000" stroke-width="1.15" stroke-linecap="butt"/>
<line x1="179.9" y1="810.0" x2="179.9" y2="818.0" stroke="#000000" stroke-width="1.15" stroke-linecap="butt"/>
<line x1="198.1" y1="814" x2="206.1" y2="814" stroke="#000000" stroke-width="1.15" stroke-linecap="butt"/>
<line x1="202.1" y1="810.0" x2="202.1" y2="818.0" stroke="#000000" stroke-width="1.15" stroke-linecap="butt"/>
<line x1="220.4" y1="814" x2="228.4" y2="814" stroke="#000000" stroke-width="1.15" stroke-linecap="butt"/>
<line x1="224.4" y1="810.0" x2="224.4" y2="818.0" stroke="#000000" stroke-width="1.15" stroke-linecap="butt"/>
<line x1="109.0" y1="839.2" x2="116.19999999999999" y2="839.2" stroke="#000000" stroke-width="1.15" stroke-linecap="butt"/>
<line x1="131.0" y1="839.2" x2="139.0" y2="839.2" stroke="#000000" stroke-width="1.15" stroke-linecap="butt"/>
<line x1="135.0" y1="835.2" x2="135.0" y2="843.2" stroke="#000000" stroke-width="1.15" stroke-linecap="butt"/>
<line x1="153.4" y1="839.2" x2="161.4" y2="839.2" stroke="#000000" stroke-width="1.15" stroke-linecap="butt"/>
<line x1="157.4" y1="835.2" x2="157.4" y2="843.2" stroke="#000000" stroke-width="1.15" stroke-linecap="butt"/>
<line x1="176.3" y1="839.2" x2="183.5" y2="839.2" stroke="#000000" stroke-width="1.15" stroke-linecap="butt"/>
<line x1="198.1" y1="839.2" x2="206.1" y2="839.2" stroke="#000000" stroke-width="1.15" stroke-linecap="butt"/>
<line x1="202.1" y1="835.2" x2="202.1" y2="843.2" stroke="#000000" stroke-width="1.15" stroke-linecap="butt"/>
<line x1="220.4" y1="839.2" x2="228.4" y2="839.2" stroke="#000000" stroke-width="1.15" stroke-linecap="butt"/>
<line x1="224.4" y1="835.2" x2="224.4" y2="843.2" stroke="#000000" stroke-width="1.15" stroke-linecap="butt"/>
<line x1="109.0" y1="864.8" x2="116.19999999999999" y2="864.8" stroke="#000000" stroke-width="1.15" stroke-linecap="butt"/>
<line x1="131.4" y1="864.8" x2="138.6" y2="864.8" stroke="#000000" stroke-width="1.15" stroke-linecap="butt"/>
<line x1="153.4" y1="864.8" x2="161.4" y2="864.8" stroke="#000000" stroke-width="1.15" stroke-linecap="butt"/>
<line x1="157.4" y1="860.8" x2="157.4" y2="868.8" stroke="#000000" stroke-width="1.15" stroke-linecap="butt"/>
<line x1="176.3" y1="864.8" x2="183.5" y2="864.8" stroke="#000000" stroke-width="1.15" stroke-linecap="butt"/>
<line x1="198.5" y1="864.8" x2="205.7" y2="864.8" stroke="#000000" stroke-width="1.15" stroke-linecap="butt"/>
<line x1="220.4" y1="864.8" x2="228.4" y2="864.8" stroke="#000000" stroke-width="1.15" stroke-linecap="butt"/>
<line x1="224.4" y1="860.8" x2="224.4" y2="868.8" stroke="#000000" stroke-width="1.15" stroke-linecap="butt"/>
</svg>
</body></html>
